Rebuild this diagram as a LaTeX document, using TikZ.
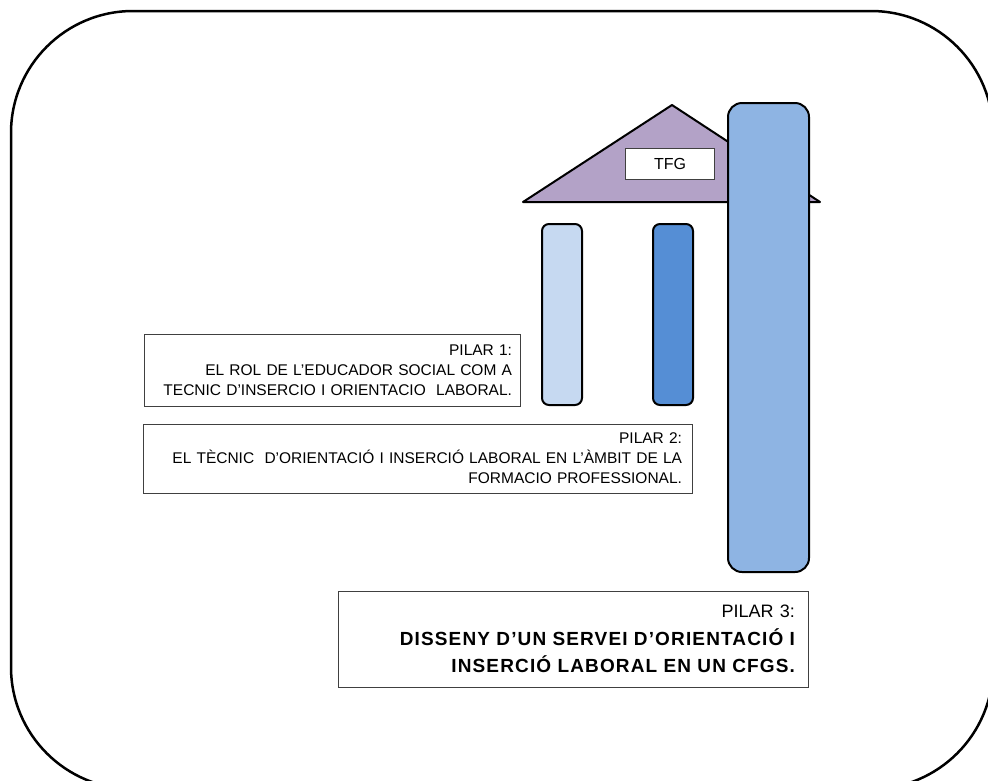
\documentclass[tikz,border=0pt]{standalone}
\usepackage{fontspec}
\setmainfont{Liberation Sans}
\newfontfamily\spacedsans[LetterSpace=6]{Liberation Sans}
\definecolor{roofcol}{HTML}{B3A2C7}
\definecolor{pilarone}{HTML}{C6D9F1}
\definecolor{pilartwo}{HTML}{558ED5}
\definecolor{pilarthree}{HTML}{8EB4E3}

\begin{document}
\begin{tikzpicture}[x=1pt,y=-1pt,thick,
  pillar/.style={draw=black,line width=2pt,rounded corners=7pt,inner sep=0pt},
  pilarbox/.style={draw=black!75,line width=1pt,align=right,inner ysep=0pt,font=\fontsize{15.5}{20}\selectfont}]
  \useasboundingbox (0,0) rectangle (988,780);
  % outer frame
  \draw[line width=2.5pt,rounded corners=122pt] (11,11) rectangle (993,789);

  % roof
  \coordinate (roofl) at (523,202);
  \coordinate (rooft) at (672,105);
  \coordinate (roofr) at (820,202);
  \draw[fill=roofcol,line width=2pt,line join=round] (roofl) -- (rooft) -- (roofr) -- cycle;
  \node[draw=black!75,line width=1pt,fill=white,minimum width=89,minimum height=31,inner sep=0pt,font=\fontsize{16}{18}\selectfont] (tfg) at (670,164) {TFG};

  % pillars
  \node[pillar,fill=pilarone,minimum width=40,minimum height=181] (p1) at (562,314.5) {};
  \node[pillar,fill=pilartwo,minimum width=40,minimum height=181] (p2) at (673,314.5) {};
  \node[pillar,fill=pilarthree,rounded corners=14pt,minimum width=81,minimum height=469] (p3) at (768.5,337.5) {};

  % texts
  \node[pilarbox,inner xsep=8pt,text width=360,minimum height=72] (t1) at (332,370)
    {PILAR 1:\\EL ROL DE L’EDUCADOR SOCIAL COM A\\TECNIC D’INSERCIO I ORIENTACIO\ \ LABORAL.};
  \node[pilarbox,inner xsep=10pt,text width=529,minimum height=69] (t2) at (417.5,458.5)
    {PILAR 2:\\EL TÈCNIC\ \ D’ORIENTACIÓ I INSERCIÓ LABORAL EN L’ÀMBIT DE LA\\FORMACIO PROFESSIONAL.};
  \node[pilarbox,inner xsep=13pt,text width=444,minimum height=96,font=\fontsize{19}{27.5}\selectfont] (t3) at (573,639)
    {{\fontsize{18}{27.5}\selectfont PILAR 3:}\\{\spacedsans\bfseries DISSENY D’UN SERVEI D’ORIENTACIÓ I}\\{\spacedsans\bfseries INSERCIÓ LABORAL EN UN CFGS.}};
\end{tikzpicture}
\end{document}
